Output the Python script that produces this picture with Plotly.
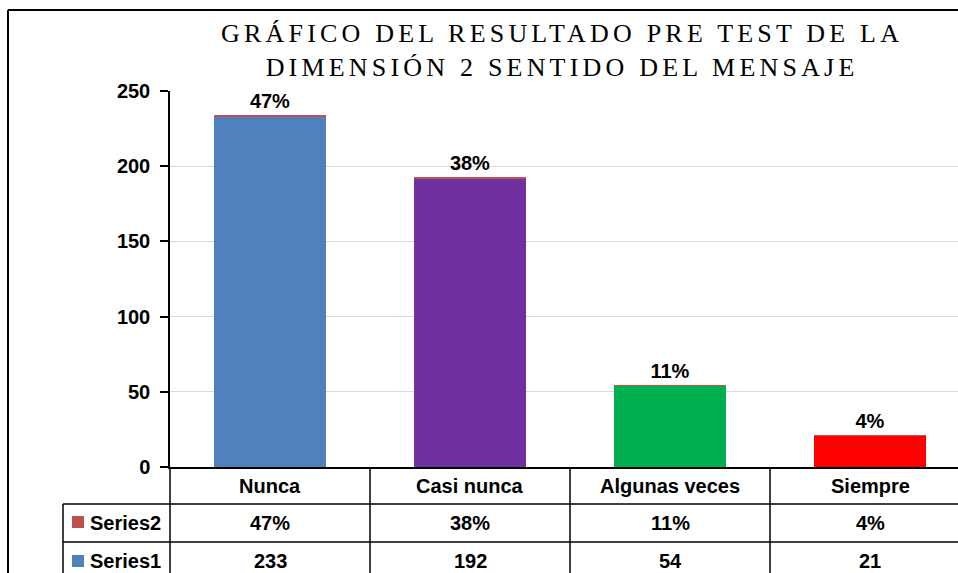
import plotly.graph_objects as go

categories = ["Nunca", "Casi nunca", "Algunas veces", "Siempre"]
series1 = [233, 192, 54, 21]
series2_pct = [47, 38, 11, 4]
bar_colors = ["#4F81BD", "#7030A0", "#00B050", "#FF0000"]
series2_color = "#C0504D"
series1_key = "#4F81BD"
title_lines = ["GRÁFICO DEL RESULTADO PRE TEST DE LA", "DIMENSIÓN 2 SENTIDO DEL MENSAJE"]
y_ticks = [0, 50, 100, 150, 200, 250]

W, H = 958, 573
# plot area in page pixels
L, R, T, B = 170, 958, 91, 467


def px(x):  # page pixel -> paper x
    return (x - L) / (R - L)


def py(y):  # page pixel -> paper y
    return (B - y) / (B - T)


FONT = "Liberation Sans, Arial, sans-serif"
fig = go.Figure()
fig.add_bar(x=categories, y=series1, marker_color=bar_colors, width=0.56,
            name="Series1", marker_line_width=0)
fig.add_bar(x=categories, y=[p / 100 for p in series2_pct], marker_color=series2_color,
            width=0.56, name="Series2", marker_line_width=0,
            text=[f"{p}%" for p in series2_pct], textposition="outside",
            textfont=dict(family=FONT, size=20, color="black", weight="bold"),
            cliponaxis=False)

shapes = []
line = dict(color="black", width=1.5)
# outer chart border (left and top)
shapes.append(dict(type="line", xref="paper", yref="paper", x0=px(8), x1=px(8), y0=py(10), y1=py(620), line=dict(color="black", width=2)))
shapes.append(dict(type="line", xref="paper", yref="paper", x0=px(8), x1=px(1000), y0=py(10), y1=py(10), line=dict(color="black", width=2)))
# table horizontal lines
for yy in [504, 542]:
    shapes.append(dict(type="line", xref="paper", yref="paper", x0=px(63), x1=px(1000), y0=py(yy), y1=py(yy), line=line))
# table left border
shapes.append(dict(type="line", xref="paper", yref="paper", x0=px(63), x1=px(63), y0=py(504), y1=py(620), line=line))
# table line under y-axis
shapes.append(dict(type="line", xref="paper", yref="paper", x0=0, x1=0, y0=0, y1=py(620), line=line))
# category separators
for i in range(1, len(categories)):
    shapes.append(dict(type="line", xref="x", yref="paper", x0=i - 0.5, x1=i - 0.5, y0=0, y1=py(620), line=line))
# legend keys
shapes.append(dict(type="rect", xref="paper", yref="paper", x0=px(72), x1=px(84), y0=py(528), y1=py(516), fillcolor=series2_color, line_width=0))
shapes.append(dict(type="rect", xref="paper", yref="paper", x0=px(72), x1=px(84), y0=py(567), y1=py(555), fillcolor=series1_key, line_width=0))

annotations = []
tf = dict(family=FONT, size=20, color="black", weight="bold")
for i, c in enumerate(categories):
    annotations.append(dict(x=c, y=py(486), xref="x", yref="paper", text=c, showarrow=False,
                            xanchor="center", yanchor="middle", font=tf))
    annotations.append(dict(x=c, y=py(523), xref="x", yref="paper", text=f"{series2_pct[i]}%", showarrow=False,
                            xanchor="center", yanchor="middle", font=tf))
    annotations.append(dict(x=c, y=py(561), xref="x", yref="paper", text=str(series1[i]), showarrow=False,
                            xanchor="center", yanchor="middle", font=tf))
annotations.append(dict(x=px(88), y=py(523), xref="paper", yref="paper", text="Series2", showarrow=False,
                        xanchor="left", yanchor="middle", font=tf))
annotations.append(dict(x=px(88), y=py(561), xref="paper", yref="paper", text="Series1", showarrow=False,
                        xanchor="left", yanchor="middle", font=tf))

title_text = "<br>".join(f'<span style="letter-spacing:4.2px">{t}</span>' for t in title_lines)
annotations.append(dict(x=px(562), y=py(50), xref="paper", yref="paper", text=title_text, showarrow=False,
                        xanchor="center", yanchor="middle",
                        font=dict(family="Liberation Serif, Times New Roman, serif", size=26, color="black")))

fig.update_layout(
    width=W, height=H,
    margin=dict(l=L, r=W - R, t=T, b=H - B, pad=0),
    paper_bgcolor="white", plot_bgcolor="white",
    barmode="stack", showlegend=False,
    shapes=shapes, annotations=annotations,
    xaxis=dict(range=[-0.5, -0.5 + (R - L) / 200], showticklabels=False, ticks="",
               showline=True, linecolor="black", linewidth=1.5, showgrid=False, zeroline=False),
    yaxis=dict(range=[0, 250], tickvals=y_ticks, ticks="outside", ticklen=8, tickcolor="black", tickwidth=1.5,
               showline=True, linecolor="black", linewidth=1.5, showgrid=True, gridcolor="#D9D9D9",
               gridwidth=1, zeroline=False, ticklabelstandoff=6,
               tickfont=dict(family=FONT, size=20, color="black", weight="bold")),
)

fig.write_html("out.html", config={"displayModeBar": False},
               post_script="document.body.style.margin='0';document.body.style.overflow='hidden';")
